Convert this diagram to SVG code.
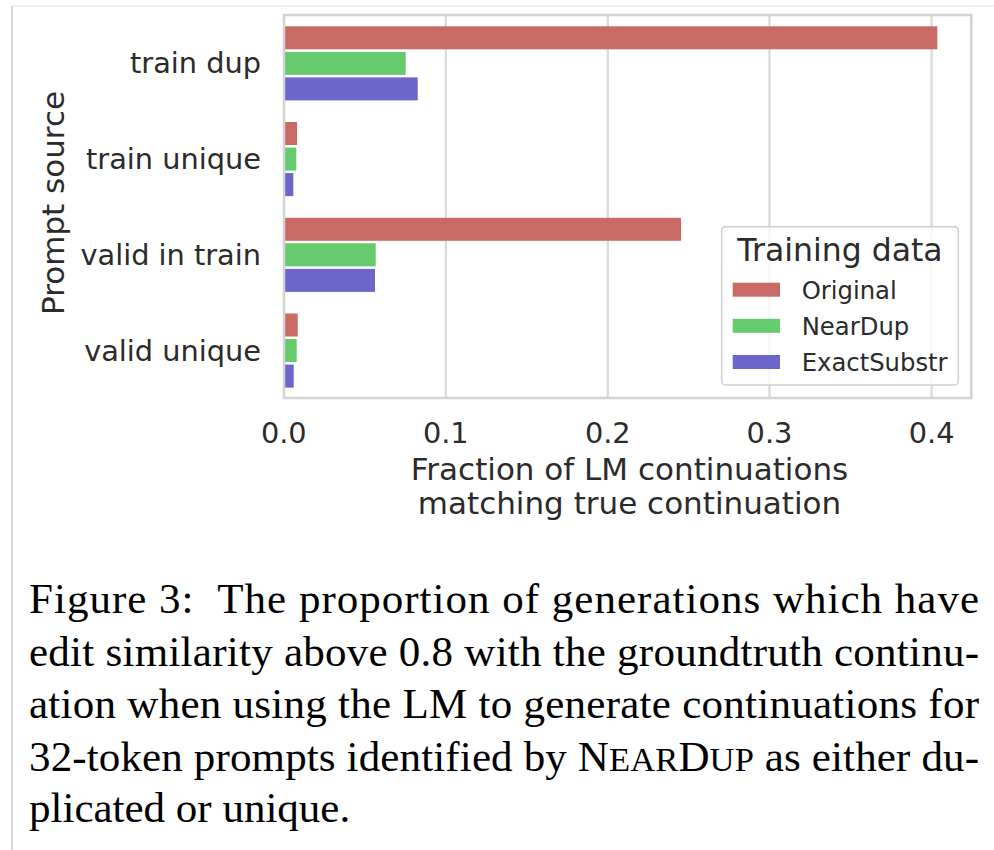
<svg xmlns="http://www.w3.org/2000/svg" width="994" height="850" viewBox="0 0 994 850">
<style>
.sans{font-family:"DejaVu Sans",Verdana,sans-serif;fill:#2b2b2b}
.tick{font-size:28.8px}
.lab{font-size:31px}
.leg{font-size:24.3px}
.cap{font-family:"Liberation Serif","Times New Roman",serif;font-size:43px;fill:#000}
.grid{stroke:#dcdcdc;stroke-width:2.4}
.spine{stroke:#d3d3d3;stroke-width:2.5;fill:none}
.orig{fill:#c96b64}
.near{fill:#66ca6e}
.exact{fill:#6c66ca}
</style>
<rect x="0" y="0" width="994" height="850" fill="#ffffff"/>
<g id="frame">
<line x1="12" y1="6" x2="994" y2="6" stroke="#ececec" stroke-width="1.5"/>
<line x1="12" y1="6" x2="12" y2="850" stroke="#d8d8d8" stroke-width="2"/>
</g>
<g id="gridlines">
<line class="grid" x1="445.8" y1="15" x2="445.8" y2="398"/>
<line class="grid" x1="607.8" y1="15" x2="607.8" y2="398"/>
<line class="grid" x1="769.5" y1="15" x2="769.5" y2="398"/>
<line class="grid" x1="931.6" y1="15" x2="931.6" y2="398"/>
</g>
<g id="bars">
<g id="train-dup">
<rect class="orig" x="284" y="26.3" width="653.3" height="23"/>
<rect class="near" x="284" y="51.9" width="121.7" height="23"/>
<rect class="exact" x="284" y="77.4" width="133.7" height="23"/>
</g>
<g id="train-unique">
<rect class="orig" x="284" y="122" width="13" height="23"/>
<rect class="near" x="284" y="147.6" width="12.3" height="23"/>
<rect class="exact" x="284" y="173.1" width="9.3" height="23"/>
</g>
<g id="valid-in-train">
<rect class="orig" x="284" y="217.8" width="397" height="23"/>
<rect class="near" x="284" y="243.3" width="91.7" height="23"/>
<rect class="exact" x="284" y="268.9" width="91" height="23"/>
</g>
<g id="valid-unique">
<rect class="orig" x="284" y="313.5" width="13.7" height="23"/>
<rect class="near" x="284" y="339" width="12.7" height="23"/>
<rect class="exact" x="284" y="364.6" width="9.7" height="23"/>
</g>
</g>
<g id="spines">
<rect class="spine" x="284" y="15" width="687.3" height="383"/>
</g>
<g id="yticks" class="sans tick" text-anchor="end">
<text x="261" y="73.3">train dup</text>
<text x="261" y="169">train unique</text>
<text x="261" y="264.8">valid in train</text>
<text x="261" y="360.5">valid unique</text>
</g>
<g id="xticks" class="sans tick" text-anchor="middle">
<text x="283.8" y="442.7">0.0</text>
<text x="445.8" y="442.7">0.1</text>
<text x="607.8" y="442.7">0.2</text>
<text x="769.5" y="442.7">0.3</text>
<text x="931.6" y="442.7">0.4</text>
</g>
<g id="xlabel" class="sans lab" text-anchor="middle">
<text x="629.5" y="479.5">Fraction of LM continuations</text>
<text x="629.5" y="514">matching true continuation</text>
</g>
<g id="ylabel" class="sans lab" text-anchor="middle">
<text transform="translate(64,203) rotate(-90)" x="0" y="0">Prompt source</text>
</g>
<g id="legend">
<rect x="721.7" y="226.7" width="236.6" height="158.3" rx="4" ry="4" fill="#ffffff" fill-opacity="0.8" stroke="#cfcfcf" stroke-width="1.5"/>
<text class="sans" x="840" y="261" text-anchor="middle" font-size="31.5">Training data</text>
<rect class="orig" x="732.7" y="282.7" width="47.3" height="14"/>
<rect class="near" x="732.7" y="318.8" width="47.3" height="14"/>
<rect class="exact" x="732.7" y="355" width="47.3" height="14"/>
<text class="sans leg" x="801.7" y="298.5">Original</text>
<text class="sans leg" x="801.7" y="334.7">NearDup</text>
<text class="sans leg" x="801.7" y="370.9">ExactSubstr</text>
</g>
<g id="caption" class="cap">
<text x="29" y="613" textLength="950" lengthAdjust="spacing">Figure 3:&#160; The proportion of generations which have</text>
<text x="29" y="666" textLength="950" lengthAdjust="spacing">edit similarity above 0.8 with the groundtruth continu-</text>
<text x="29" y="718" textLength="950" lengthAdjust="spacing">ation when using the LM to generate continuations for</text>
<text x="29" y="771" textLength="950" lengthAdjust="spacing">32-token prompts identified by N<tspan font-size="34.5px">EAR</tspan>D<tspan font-size="34.5px">UP</tspan> as either du-</text>
<text x="29" y="822">plicated or unique.</text>
</g>
</svg>
